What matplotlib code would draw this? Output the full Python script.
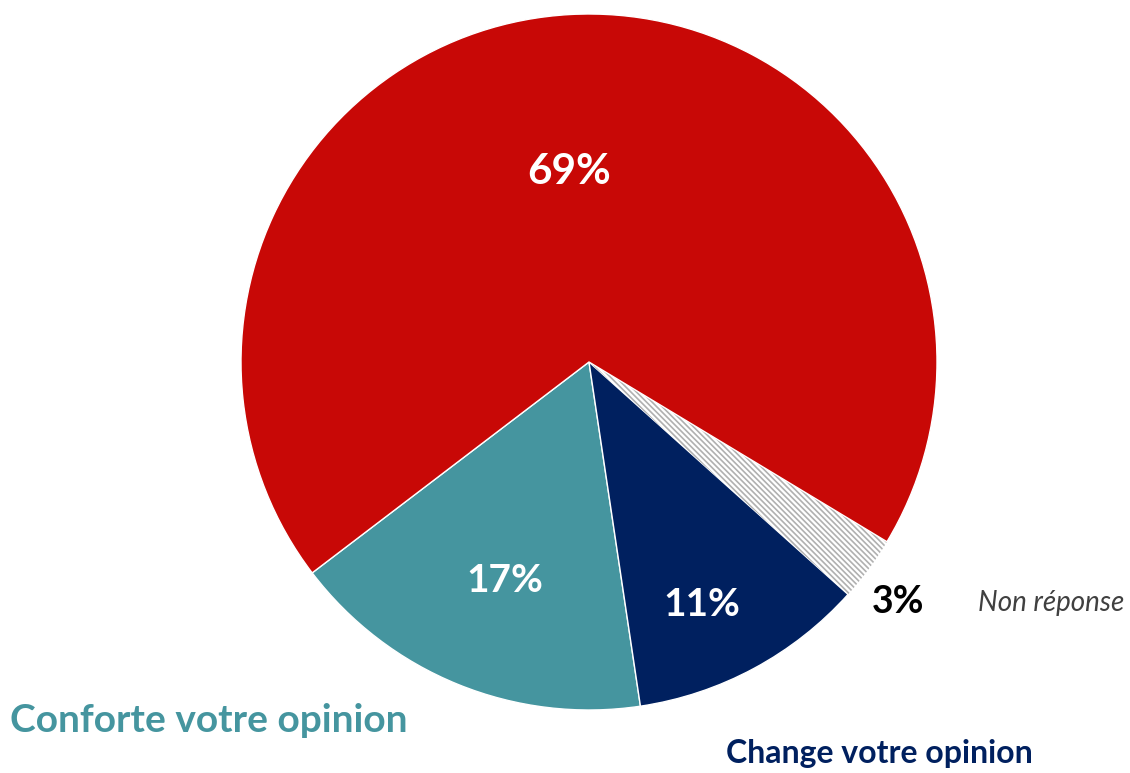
import matplotlib
matplotlib.use("Agg")
import matplotlib.pyplot as plt

categories = ["Conforte votre opinion", "Change votre opinion", "Non réponse", "Autre"]
values = [17, 11, 3, 69]
pct_labels = ["17%", "11%", "3%", "69%"]
colors = ["#45959F", "#00205F", "#FFFFFF", "#C80806"]

plt.rcParams['font.family'] = ['Lato', 'DejaVu Sans']
plt.rcParams['hatch.linewidth'] = 1.2

W, H = 1130, 773
fig = plt.figure(figsize=(W / 100, H / 100), dpi=100)
cx, cy, r = 589, 362, 348
ax = fig.add_axes([(cx - r) / W, (H - cy - r) / H, 2 * r / W, 2 * r / H])

wedges, _ = ax.pie(values, colors=colors, startangle=217.3, counterclock=True,
                   radius=1, wedgeprops=dict(edgecolor='white', linewidth=1))
ax.set_xlim(-1, 1)
ax.set_ylim(-1, 1)
ax.set_aspect('equal')
ax.axis('off')

hw = wedges[2]
hw.set_hatch('\\\\\\\\\\\\')
hw.set_edgecolor('#B0B0B0')
hw.set_linewidth(0)


def fx(px):
    return px / W


def fy(py):
    return 1 - py / H


fig.text(fx(569), fy(172), pct_labels[3], color='white', fontsize=30.5, fontweight='bold', ha='center', va='center')
fig.text(fx(505), fy(580), pct_labels[0], color='white', fontsize=28, fontweight='bold', ha='center', va='center')
fig.text(fx(702), fy(605), pct_labels[1], color='white', fontsize=28, fontweight='bold', ha='center', va='center')
fig.text(fx(898), fy(602), pct_labels[2], color='black', fontsize=27, fontweight='bold', ha='center', va='center')
fig.text(fx(1051), fy(603), categories[2], color='#404040', fontsize=20, style='italic', ha='center', va='center')
fig.text(fx(10), fy(720), categories[0], color='#45959F', fontsize=28, fontweight='bold', ha='left', va='center')
fig.text(fx(726), fy(753), categories[1], color='#00205F', fontsize=23, fontweight='bold', ha='left', va='center')

fig.savefig('out.png', dpi=100, facecolor='white')
